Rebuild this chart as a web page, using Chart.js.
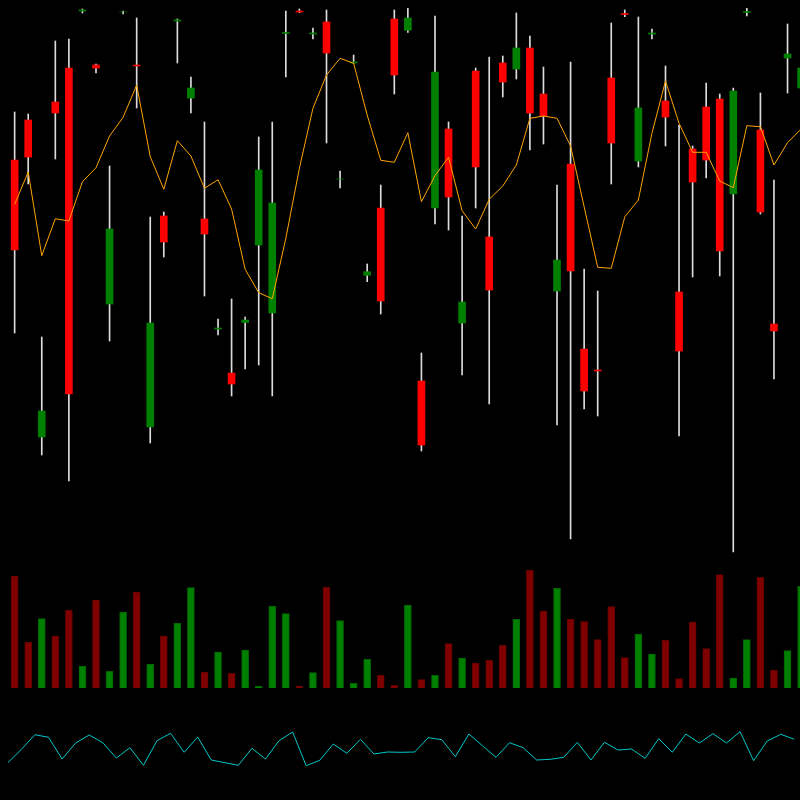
<!DOCTYPE html>
<html>
<head>
<meta charset="utf-8">
<script src="https://cdn.jsdelivr.net/npm/chart.js@4.4.1/dist/chart.umd.min.js"></script>
<style>
  body { margin: 0; background: #000; }
  canvas { position: absolute; left: 0; }
</style>
</head>
<body>
<canvas id="price" width="800" height="560" style="top:0px"></canvas>
<canvas id="volume" width="800" height="128" style="top:560px"></canvas>
<canvas id="osc" width="800" height="100" style="top:700px"></canvas>
<script>
// candles
var opens = [40.0, 44.0, 12.3, 45.8, 49.2, 54.9, 49.5, 25.6, 54.8, 49.5,
  13.3, 34.4, 53.9, 46.2, 34.1, 23.1, 18.7, 23.75, 31.5, 24.7,
  52.65, 54.9, 52.6, 53.8, 38.1, 49.7, 28.47, 35.2, 54.1, 52.97,
  17.9, 35.2, 43.1, 23.7, 48.9, 32.3, 49.7, 49.1, 51.2, 46.6,
  26.9, 39.6, 21.1, 19.0, 48.2, 54.65, 39.9, 52.6, 45.9, 26.8,
  41.1, 45.3, 46.1, 36.6, 54.75, 43.0, 23.6, 50.2, 47.2];
var closes = [31.0, 40.3, 14.9, 44.7, 16.6, 55.0, 49.2, 33.1, 54.8, 49.4,
  23.7, 31.8, 54.0, 47.2, 32.6, 23.2, 17.6, 24.0, 39.0, 35.7,
  52.75, 54.8, 52.7, 50.7, 38.1, 49.8, 28.83, 25.9, 48.5, 54.2,
  11.5, 48.8, 36.3, 25.8, 39.3, 27.0, 47.8, 51.2, 44.7, 44.4,
  30.0, 28.9, 16.9, 18.9, 41.7, 54.55, 45.2, 52.7, 44.3, 20.9,
  37.8, 40.0, 30.9, 46.9, 54.85, 34.8, 22.9, 50.6, 49.2];
var highs = [44.8, 44.6, 22.3, 51.9, 52.1, 55.1, 49.6, 39.4, 54.9, 54.2,
  34.3, 34.8, 54.1, 48.3, 43.8, 24.1, 26.1, 24.3, 42.3, 43.8,
  54.9, 55.1, 53.2, 55.0, 38.9, 50.5, 29.6, 37.5, 55.0, 55.17,
  20.7, 54.4, 43.8, 34.4, 49.2, 50.3, 50.4, 54.7, 52.4, 49.3,
  37.5, 49.8, 29.1, 26.9, 53.7, 55.0, 54.3, 53.1, 49.4, 43.5,
  41.4, 47.7, 46.6, 47.2, 55.17, 46.7, 38.0, 53.6, 49.8];
var lows = [22.7, 37.6, 10.5, 40.1, 7.9, 54.7, 48.7, 21.9, 54.6, 45.2,
  11.7, 30.3, 49.7, 44.7, 26.4, 22.5, 16.4, 19.1, 19.5, 16.4,
  48.3, 54.75, 52.1, 41.7, 37.2, 49.65, 27.83, 24.6, 46.6, 52.77,
  10.9, 33.6, 33.0, 18.5, 35.2, 15.6, 46.3, 48.1, 41.0, 41.6,
  13.5, 2.1, 15.1, 14.4, 37.6, 54.33, 39.3, 52.1, 41.4, 12.4,
  28.3, 38.2, 28.4, 0.8, 54.4, 34.6, 18.1, 46.7, 46.8];
// moving average (orange)
var ma = [35.57, 38.8, 30.43, 34.13, 33.9, 37.83, 39.23, 42.4, 44.27, 47.5,
  40.33, 37.07, 41.93, 40.4, 37.17, 38.03, 35.1, 29.07, 26.73, 26.13,
  32.17, 39.17, 45.17, 48.5, 50.17, 49.67, 44.5, 39.97, 39.77, 42.73,
  35.83, 38.43, 40.27, 34.93, 33.1, 36.07, 37.4, 39.5, 44.17, 44.4,
  44.17, 41.4, 35.33, 29.27, 29.17, 34.33, 36.0, 42.67, 47.9, 43.67,
  40.77, 40.77, 37.9, 37.23, 43.43, 43.33, 39.5, 41.73, 43.1];
var volumes = [1120, 457, 694, 520, 777, 217, 877, 167, 760, 957,
  237, 520, 647, 1004, 157, 360, 147, 380, 17, 817,
  744, 17, 154, 1007, 674, 47, 287, 127, 27, 830,
  84, 127, 444, 300, 250, 277, 427, 687, 1177, 770,
  997, 690, 664, 484, 814, 304, 540, 340, 477, 94,
  660, 394, 1134, 100, 484, 1107, 177, 374, 1017];
// oscillator (cyan)
var osc = [37.3, 50.7, 65.3, 62.7, 41.0, 57.0, 65.0, 57.3, 42.0, 52.3,
  34.7, 59.3, 66.7, 47.7, 63.0, 40.0, 37.3, 34.7, 51.7, 41.0,
  59.3, 68.0, 34.3, 39.7, 56.0, 46.7, 60.7, 46.0, 48.0, 47.7,
  48.0, 62.3, 60.3, 43.3, 66.0, 54.3, 42.7, 57.3, 52.3, 40.0,
  40.7, 42.7, 57.7, 40.0, 57.7, 50.0, 51.0, 41.7, 61.3, 47.7,
  66.0, 57.0, 66.3, 57.0, 68.3, 39.3, 59.0, 65.7, 60.7];

var up = closes.map(function (c, i) { return c >= opens[i]; });

function scalesFor(yMin, yMax) {
  return {
    x: { type: "linear", min: -1.08, max: 57.92, display: false, offset: false, grid: { offset: false } },
    y: { min: yMin, max: yMax, display: false }
  };
}

var common = {
  responsive: false,
  animation: false,
  events: [],
  layout: { padding: 0 },
  plugins: { legend: { display: false }, tooltip: { enabled: false } }
};

new Chart("price", {
  type: "bar",
  data: {
    datasets: [{
      type: "line",
      data: ma.map(function (v, i) { return { x: i, y: v }; }),
      borderColor: "#ffa500",
      borderWidth: 1,
      pointRadius: 0,
      tension: 0,
      order: 0
    }, {
      data: opens.map(function (o, i) { return { x: i, y: [o, closes[i]] }; }),
      backgroundColor: up.map(function (u) { return u ? "#008000" : "#ff0000"; }),
      barThickness: 7,
      grouped: false,
      order: 1
    }, {
      data: lows.map(function (l, i) { return { x: i, y: [l, highs[i]] }; }),
      backgroundColor: "#dcdcdc",
      barThickness: 1,
      grouped: false,
      order: 2
    }]
  },
  options: Object.assign({}, common, { scales: scalesFor(0, 56) })
});

new Chart("volume", {
  type: "bar",
  data: {
    datasets: [{
      data: volumes.map(function (v, i) { return { x: i, y: v }; }),
      backgroundColor: up.map(function (u) { return u ? "#008000" : "#800000"; }),
      borderColor: up.map(function (u) { return u ? "#006400" : "#650000"; }),
      borderWidth: 1,
      barThickness: 7
    }]
  },
  options: Object.assign({}, common, { scales: scalesFor(0, 1280) })
});

new Chart("osc", {
  type: "line",
  data: {
    datasets: [{
      data: osc.map(function (v, i) { return { x: i - 0.5, y: v }; }),
      borderColor: "#00c8c8",
      borderWidth: 1,
      pointRadius: 0,
      tension: 0
    }]
  },
  options: Object.assign({}, common, { scales: scalesFor(0, 100) })
});
</script>
</body>
</html>
